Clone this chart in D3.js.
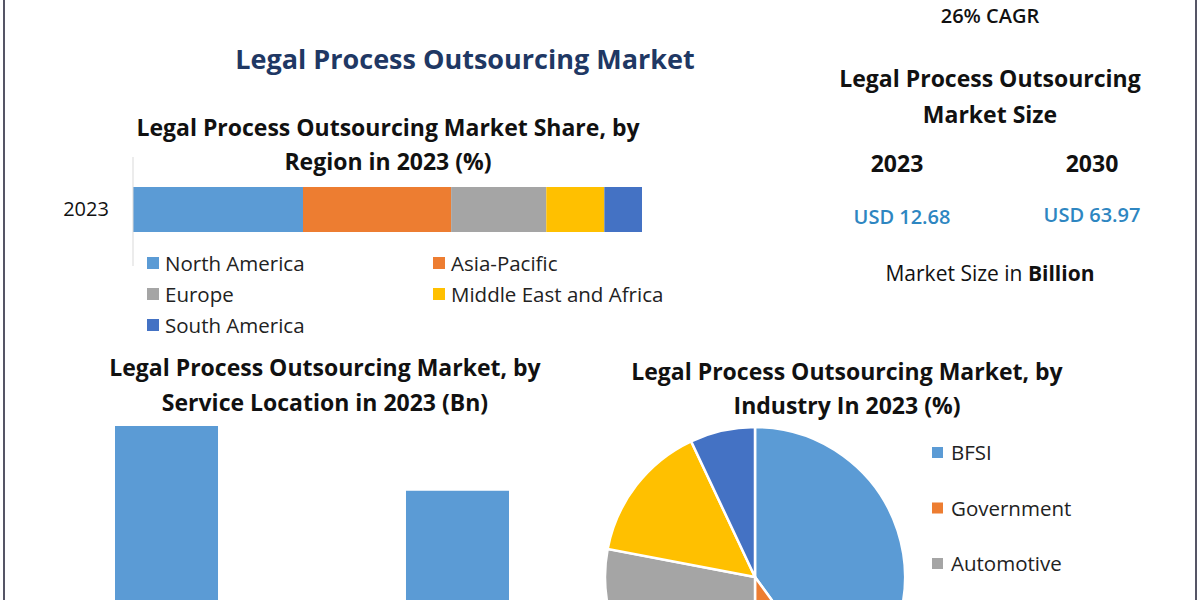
<!DOCTYPE html>
<html><head><meta charset="utf-8">
<script src="https://cdn.jsdelivr.net/npm/d3@7"></script>
<style>body{margin:0;background:#fff}text{font-family:"Open Sans",sans-serif}</style>
</head><body>
<svg id="c" width="1200" height="600"></svg>
<script>
// region share 2023 (%)
var regions = ['North America', 'Asia-Pacific', 'Europe', 'Middle East and Africa', 'South America'];
var regionShare = [33.4, 29.1, 18.7, 11.4, 7.4];
var regionColors = ['#5b9bd5', '#ed7d31', '#a5a5a5', '#ffc000', '#4472c4'];

// service location (Bn)
var locations = ['Offshore', 'Onshore'];
var locationValues = [8.2, 6.7];

// industry share (%)
var industries = ['BFSI', 'Government', 'Automotive'];
var industryShare = [40, 10, 28, 15, 7];

var svg = d3.select('#c');
var dark = '#1f3864';

svg.append('line').attr('x1', 4).attr('x2', 4).attr('y1', 0).attr('y2', 600).attr('stroke', '#556').attr('stroke-width', 2);
svg.append('line').attr('x1', 1196).attr('x2', 1196).attr('y1', 0).attr('y2', 600).attr('stroke', '#556').attr('stroke-width', 2);

function txt(x, y, s, size, color, weight) {
    return svg.append('text').attr('x', x).attr('y', y).attr('text-anchor', 'middle')
        .attr('font-size', size).attr('fill', color || '#111').attr('font-weight', weight || 'bold').text(s);
}

txt(465, 69, 'Legal Process Outsourcing Market', 27, dark);
txt(388, 136, 'Legal Process Outsourcing Market Share, by', 23);
txt(388, 170, 'Region in 2023 (%)', 23);

// right info panel
txt(990, 23, '26% CAGR', 20, '#111', '600');
txt(990, 87, 'Legal Process Outsourcing', 23);
txt(990, 123, 'Market Size', 23);
txt(897, 172, '2023', 23);
txt(1092, 172, '2030', 23);
txt(902, 224, 'USD 12.68', 20, '#2e86c1', '600');
txt(1092, 222, 'USD 63.97', 20, '#2e86c1', '600');
var ms = txt(990, 281, '', 21, '#111', 'normal');
ms.append('tspan').text('Market Size in ');
ms.append('tspan').attr('font-weight', 'bold').text('Billion');

// stacked bar
var x = d3.scaleLinear().domain([0, d3.sum(regionShare)]).range([133, 642]);
var cum = 0;
var stacks = regionShare.map(function (v) { var s = cum; cum += v; return [s, cum]; });
svg.selectAll('.seg').data(stacks).enter().append('rect')
    .attr('x', function (d) { return x(d[0]); }).attr('width', function (d) { return x(d[1]) - x(d[0]); })
    .attr('y', 187).attr('height', 45).attr('fill', function (d, i) { return regionColors[i]; });
svg.append('line').attr('x1', 133).attr('x2', 133).attr('y1', 157).attr('y2', 266).attr('stroke', '#d9d9d9');
txt(86, 216, '2023', 20, '#111', 'normal');
var legPos = [[147, 264], [433, 264], [147, 295], [433, 295], [147, 326]];
regions.forEach(function (r, i) {
    svg.append('rect').attr('x', legPos[i][0]).attr('y', legPos[i][1] - 7).attr('width', 12).attr('height', 12).attr('fill', regionColors[i]);
    svg.append('text').attr('x', legPos[i][0] + 18).attr('y', legPos[i][1] + 7).attr('font-size', 20.5).attr('fill', '#222').text(r);
});

// service location bars
txt(325, 376, 'Legal Process Outsourcing Market, by', 23);
txt(325, 411, 'Service Location in 2023 (Bn)', 23);
var bx = d3.scaleBand().domain(locations).range([115, 509]).paddingInner(0.646).paddingOuter(0);
var by = d3.scaleLinear().domain([0, 8.2]).range([780, 426]);
svg.selectAll('.lb').data(locationValues).enter().append('rect')
    .attr('x', function (d, i) { return bx(locations[i]); }).attr('width', bx.bandwidth())
    .attr('y', function (d) { return by(d); }).attr('height', function (d) { return 780 - by(d); })
    .attr('fill', '#5b9bd5');

// industry pie
txt(847, 380, 'Legal Process Outsourcing Market, by', 23);
txt(847, 414, 'Industry In 2023 (%)', 23);
var pie = d3.pie().sort(null)(industryShare);
var arc = d3.arc().innerRadius(0).outerRadius(150);
svg.append('g').attr('transform', 'translate(755,577)').selectAll('path').data(pie).enter().append('path')
    .attr('d', arc).attr('fill', function (d, i) { return regionColors[i]; })
    .attr('stroke', '#fff').attr('stroke-width', 2.5);
industries.forEach(function (r, i) {
    var yy = 453 + i * 55.5;
    svg.append('rect').attr('x', 932).attr('y', yy - 6).attr('width', 11).attr('height', 11).attr('fill', regionColors[i]);
    svg.append('text').attr('x', 951).attr('y', yy + 7).attr('font-size', 20.5).attr('fill', '#222').text(r);
});
</script>
</body></html>
